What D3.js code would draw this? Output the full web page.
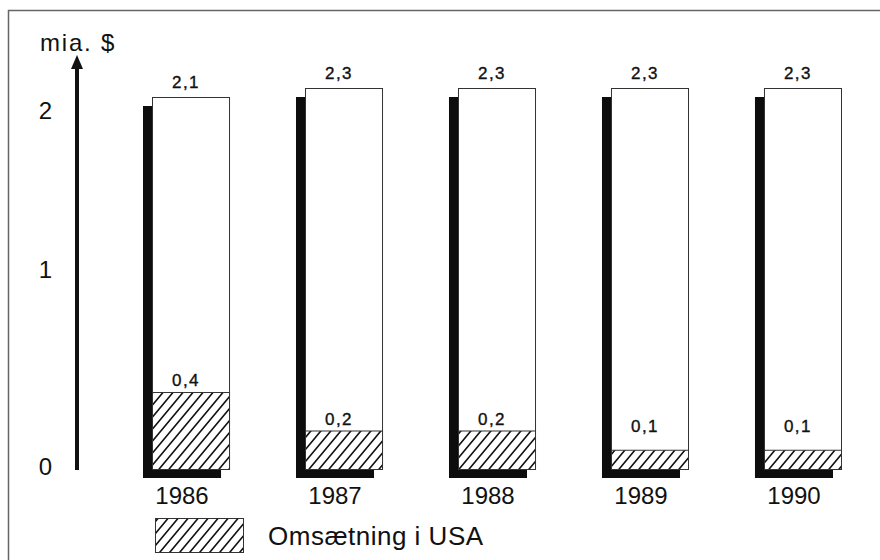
<!DOCTYPE html>
<html>
<head>
<meta charset="utf-8">
<script src="https://cdn.jsdelivr.net/npm/d3@7"></script>
<style>
  html, body { margin: 0; padding: 0; background: #fff; }
  svg { display: block; }
  text { font-family: "Liberation Sans", Arial, Helvetica, sans-serif; fill: #111; }
</style>
</head>
<body>
<svg id="chart" width="880" height="560"></svg>
<script>
// ---- data ----
const years = ["1986", "1987", "1988", "1989", "1990"];
const totalValues = [2.1, 2.3, 2.3, 2.3, 2.3];   // total turnover, mia. $
const usaValues = [0.4, 0.2, 0.2, 0.1, 0.1];     // "Omsætning i USA"
const yTicks = [0, 1, 2];
const yAxisTitle = "mia. $";
const legendLabel = "Omsætning i USA";

// ---- setup ----
const W = 880, H = 560;
const svg = d3.select("#chart");
const da = d3.formatLocale({decimal: ",", thousands: ".", grouping: [3], currency: ["", " $"]});
const fmt = da.format(".1f");
const tickFmt = da.format("d");

const shadowDx = -9, shadowDy = 9;

// The source drawing is not strictly proportional; a piecewise-linear scale reproduces it.
const y = d3.scaleLinear()
  .domain([0, 0.4, 1, 2.1, 2.3])
  .range([469, 392, 272, 97, 88]);

const x = d3.scaleBand()
  .domain(years)
  .range([152, 842])
  .paddingInner(0.49)
  .paddingOuter(0);

// hatch pattern
const defs = svg.append("defs");
const pw = 10, ph = 12;
const pat = defs.append("pattern")
  .attr("id", "hatch")
  .attr("patternUnits", "userSpaceOnUse")
  .attr("width", pw).attr("height", ph);
pat.append("rect").attr("width", pw).attr("height", ph).attr("fill", "#fff");
pat.append("path")
  .attr("d", `M${-1},${ph + 1.2} L${pw + 1},${-1.2} M${pw - 1},${ph + 1.2} L${pw + 1},${ph - 1.2} M${-1},${1.2} L${1},${-1.2}`)
  .attr("stroke", "#111").attr("stroke-width", 1.6).attr("fill", "none");

// frame
svg.append("rect")
  .attr("x", 8.5).attr("y", 10.5)
  .attr("width", W + 20).attr("height", H + 20)
  .attr("fill", "none").attr("stroke", "#666").attr("stroke-width", 1.5);

// y axis (labels via d3.axisLeft, thick arrow drawn on the axis position)
const axisX = 77;
const yAxis = svg.append("g")
  .attr("transform", `translate(${axisX},0)`)
  .call(d3.axisLeft(y).tickValues(yTicks).tickFormat(tickFmt).tickSize(0).tickPadding(25));
yAxis.select(".domain").remove();
yAxis.selectAll("text")
  .attr("font-size", 24)
  .attr("dy", "0.32em")
  .attr("y", -2)
  .style("font-family", '"Liberation Sans", Arial, Helvetica, sans-serif')
  .attr("fill", "#111");

const arrowTip = 55, arrowHeadLen = 14;
svg.append("line")
  .attr("x1", axisX).attr("x2", axisX)
  .attr("y1", y(0) + 1).attr("y2", arrowTip + arrowHeadLen - 2)
  .attr("stroke", "#111").attr("stroke-width", 4);
svg.append("path")
  .attr("d", `M${axisX},${arrowTip} L${axisX - 6},${arrowTip + arrowHeadLen} L${axisX + 6},${arrowTip + arrowHeadLen} Z`)
  .attr("fill", "#111");

svg.append("text")
  .attr("x", 40).attr("y", 51)
  .attr("font-size", 24)
  .attr("letter-spacing", 1.8)
  .text(yAxisTitle);

// bars
const rows = years.map((yr, i) => ({year: yr, total: totalValues[i], usa: usaValues[i]}));
const g = svg.append("g").selectAll("g.bar").data(rows).join("g").attr("class", "bar");

// shadow
g.append("rect")
  .attr("x", d => x(d.year) + shadowDx)
  .attr("y", d => y(d.total) + shadowDy)
  .attr("width", x.bandwidth())
  .attr("height", d => y(0) - y(d.total))
  .attr("fill", "#0d0d0d");

// white total bar
g.append("rect")
  .attr("x", d => x(d.year) + 0.5)
  .attr("y", d => y(d.total) + 0.5)
  .attr("width", x.bandwidth() - 1)
  .attr("height", d => y(0) - y(d.total))
  .attr("fill", "#fff").attr("stroke", "#333").attr("stroke-width", 1);

// hatched USA part
g.append("rect")
  .attr("x", d => x(d.year) + 0.5)
  .attr("y", d => y(d.usa) + 0.5)
  .attr("width", x.bandwidth() - 1)
  .attr("height", d => y(0) - y(d.usa))
  .attr("fill", "url(#hatch)").attr("stroke", "#333").attr("stroke-width", 1);

// value labels
g.append("text")
  .attr("x", d => x(d.year) + x.bandwidth() / 2 - 5)
  .attr("y", d => y(d.total) - 9)
  .attr("text-anchor", "middle")
  .attr("font-size", 17)
  .attr("letter-spacing", 1.5)
  .attr("stroke", "#111").attr("stroke-width", 0.35)
  .text(d => fmt(d.total));

g.append("text")
  .attr("x", d => x(d.year) + x.bandwidth() / 2 - 5)
  .attr("y", d => Math.min(y(d.usa) - 6, y(0) - 37))
  .attr("text-anchor", "middle")
  .attr("font-size", 17)
  .attr("letter-spacing", 1.5)
  .attr("stroke", "#111").attr("stroke-width", 0.35)
  .text(d => fmt(d.usa));

// year labels
g.append("text")
  .attr("x", d => x(d.year) + x.bandwidth() / 2 + shadowDx)
  .attr("y", 504)
  .attr("text-anchor", "middle")
  .attr("font-size", 24)
  .text(d => d.year);

// legend
svg.append("rect")
  .attr("x", 155.5).attr("y", 518.5)
  .attr("width", 88).attr("height", 34)
  .attr("fill", "url(#hatch)").attr("stroke", "#333").attr("stroke-width", 1);
svg.append("text")
  .attr("x", 268).attr("y", 545)
  .attr("font-size", 26)
  .attr("letter-spacing", 0.5)
  .text(legendLabel);
</script>
</body>
</html>
